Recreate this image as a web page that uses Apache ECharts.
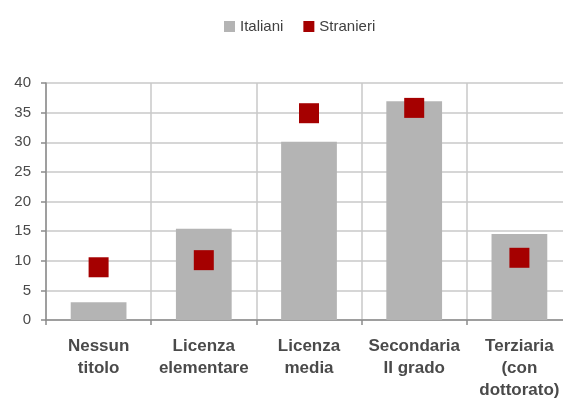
<!DOCTYPE html>
<html><head><meta charset="utf-8">
<script src="https://cdn.jsdelivr.net/npm/echarts@6/dist/echarts.min.js"></script>
<style>html,body{margin:0;padding:0;background:#fff;overflow:hidden}#c{width:580px;height:403px}</style>
</head><body><div id="c"></div>
<script>
const categories = ['Nessun\ntitolo', 'Licenza\nelementare', 'Licenza\nmedia', 'Secondaria\nII grado', 'Terziaria\n(con\ndottorato)'];
const italiani = [3.0, 15.4, 30.1, 36.9, 14.5];
const stranieri = [8.9, 10.1, 34.9, 35.8, 10.5];
const yTicks = [0, 5, 10, 15, 20, 25, 30, 35, 40];

const chart = echarts.init(document.getElementById('c'));
chart.setOption({
  animation: false,
  legend: {
    left: 219, top: 14, itemWidth: 11, itemHeight: 11, itemGap: 20,
    textStyle: { fontFamily: 'Liberation Sans, Arial', fontSize: 15, color: '#404040' },
    data: [{ name: 'Italiani', icon: 'rect' }, { name: 'Stranieri', icon: 'rect' }]
  },
  grid: { left: 46, top: 83, right: 8, height: 237 },
  xAxis: {
    type: 'category', data: categories,
    axisLine: { lineStyle: { color: '#8c8c8c', width: 1.5 } },
    axisTick: { show: true, length: 5, lineStyle: { color: '#8c8c8c', width: 1.5 } },
    splitLine: { show: true, lineStyle: { color: '#c8c8c8', width: 1.5 } },
    axisLabel: { fontFamily: 'Liberation Sans, Arial', fontWeight: 'bold', fontSize: 17, color: '#4a4a4a', lineHeight: 22, margin: 15, interval: 0 }
  },
  yAxis: {
    type: 'value', min: yTicks[0], max: yTicks[yTicks.length - 1], interval: 5,
    axisLine: { show: true, lineStyle: { color: '#8c8c8c', width: 1.5 } },
    axisTick: { show: true, length: 5, lineStyle: { color: '#8c8c8c', width: 1.5 } },
    splitLine: { show: true, lineStyle: { color: '#c8c8c8', width: 1.5 } },
    axisLabel: { fontFamily: 'Liberation Sans, Arial', fontSize: 15, color: '#4a4a4a', margin: 15 }
  },
  series: [
    { name: 'Italiani', type: 'bar', data: italiani, barWidth: '53%', itemStyle: { color: '#b4b4b4' } },
    { name: 'Stranieri', type: 'scatter', data: stranieri, symbol: 'rect', symbolSize: 20, itemStyle: { color: '#a50000', opacity: 1 }, z: 5 }
  ]
});
</script></body></html>
